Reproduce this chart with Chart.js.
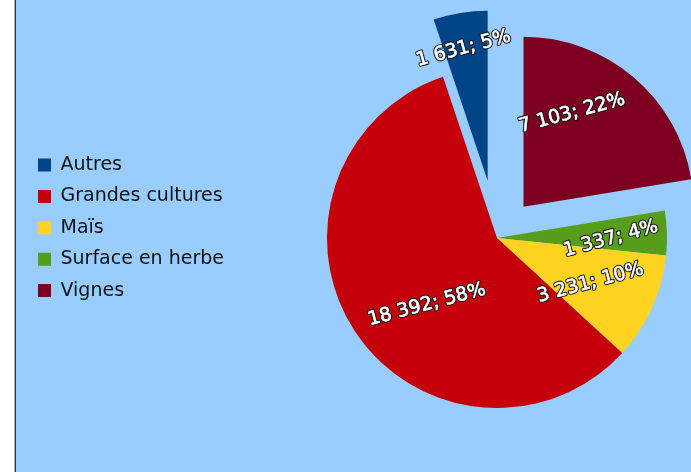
<!DOCTYPE html>
<html><head><meta charset="utf-8">
<script src="https://cdn.jsdelivr.net/npm/chart.js@4/dist/chart.umd.min.js"></script>
<style>
html,body{margin:0;padding:0;overflow:hidden;background:#fff;width:691px;height:472px;}
#wrap{position:absolute;left:0;top:0;width:691px;height:472px;overflow:hidden;}
canvas{display:block;}
</style></head><body>
<div id="wrap"><canvas id="c" width="760" height="472" style="width:760px;height:472px"></canvas></div>
<script>
// Data (legend order)
const categories = ['Autres', 'Grandes cultures', 'Maïs', 'Surface en herbe', 'Vignes'];
const values = [1631, 18392, 3231, 1337, 7103];
const colors = ['#004586', '#c5000b', '#ffd320', '#579d1c', '#7e0021'];

// Styling (legend order)
const explodeAmounts = [58, 0, 0, 0, 41];
const labelRadius = [0.79, 0.57, 0.61, 0.67, 0.62];
const labelAngleShift = [-1.1, -10.7, 1.5, 2.2, -12.9];

// pie drawn clockwise from top in reversed order
const rev = a => a.slice().reverse();
const total = values.reduce((a, b) => a + b, 0);
const fmt = v => String(v).replace(/\B(?=(\d{3})+(?!\d))/g, ' ');

const bgPlugin = {
  id: 'bg',
  beforeDraw(chart) {
    const ctx = chart.ctx, w = chart.width, h = chart.height;
    ctx.save();
    ctx.fillStyle = '#ffffff'; ctx.fillRect(0, 0, w, h);
    ctx.fillStyle = '#99ccff'; ctx.fillRect(16, 0, w - 16, h);
    ctx.fillStyle = '#b0b0b0'; ctx.fillRect(14, 0, 1, h);
    ctx.fillStyle = '#333333'; ctx.fillRect(15, 0, 1, h);
    ctx.restore();
  }
};

const explodePlugin = {
  id: 'explode',
  afterDatasetUpdate(chart, args, opts) {
    args.meta.data.forEach((arc, i) => {
      const d = (opts.amounts || [])[i] || 0;
      if (!d) return;
      const mid = (arc.startAngle + arc.endAngle) / 2;
      arc.x += Math.cos(mid) * d;
      arc.y += Math.sin(mid) * d;
    });
  }
};

const labelPlugin = {
  id: 'sliceLabels',
  afterDatasetsDraw(chart, args, opts) {
    const ctx = chart.ctx;
    const meta = chart.getDatasetMeta(0);
    const data = chart.data.datasets[0].data;
    ctx.save();
    ctx.font = '19px "DejaVu Sans"';
    ctx.textAlign = 'center';
    ctx.textBaseline = 'middle';
    meta.data.forEach((arc, i) => {
      const p = arc.getProps(['x', 'y', 'startAngle', 'endAngle', 'outerRadius'], true);
      const mid = (p.startAngle + p.endAngle) / 2 + (opts.angleShift[i] || 0) * Math.PI / 180;
      const r = p.outerRadius * opts.radius[i];
      const x = p.x + Math.cos(mid) * r, y = p.y + Math.sin(mid) * r;
      const v = data[i];
      const txt = fmt(v) + '; ' + Math.round(v / total * 100) + '%';
      ctx.save();
      ctx.translate(x, y);
      ctx.rotate(-15 * Math.PI / 180);
      ctx.lineJoin = 'round';
      ctx.lineWidth = 2.8;
      ctx.strokeStyle = '#1a1a1a';
      ctx.strokeText(txt, 0, 0);
      ctx.fillStyle = '#ffffff';
      ctx.fillText(txt, 0, 0);
      ctx.lineWidth = 0.6;
      ctx.strokeStyle = '#ffffff';
      ctx.strokeText(txt, 0, 0);
      ctx.restore();
    });
    ctx.restore();
  }
};

new Chart(document.getElementById('c'), {
  type: 'pie',
  data: {
    labels: rev(categories),
    datasets: [{
      data: rev(values),
      backgroundColor: rev(colors),
      borderWidth: 0
    }]
  },
  options: {
    responsive: false,
    animation: false,
    events: [],
    radius: 170,
    layout: { padding: { left: 25.6, top: 4, right: 0, bottom: 0 } },
    plugins: {
      tooltip: { enabled: false },
      explode: { amounts: rev(explodeAmounts) },
      sliceLabels: { radius: rev(labelRadius), angleShift: rev(labelAngleShift) },
      legend: {
        position: 'left',
        align: 'start',
        reverse: true,
        title: { display: true, text: '', font: { size: 1 }, padding: { top: 137.9, bottom: 0 } },
        labels: {
          boxWidth: 13, boxHeight: 13, padding: 12.4, color: '#111111',
          font: { family: 'DejaVu Sans', size: 19 }
        }
      }
    }
  },
  plugins: [bgPlugin, explodePlugin, labelPlugin]
});
</script>
</body></html>
